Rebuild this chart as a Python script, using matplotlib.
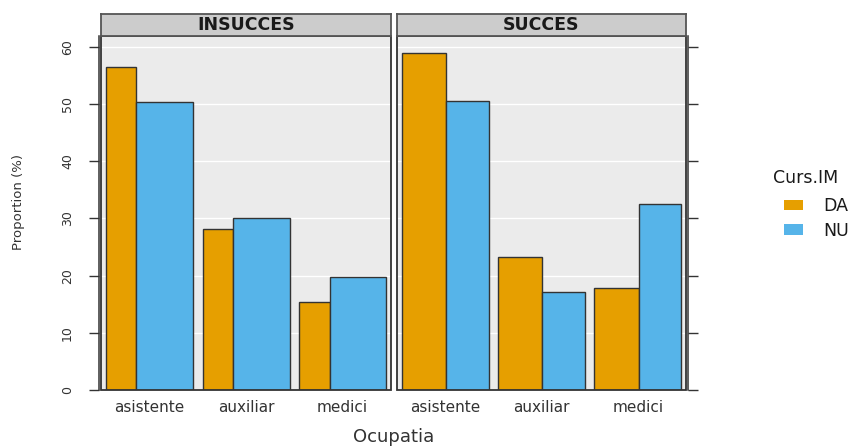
import numpy as np
import matplotlib
matplotlib.use("Agg")
import matplotlib.pyplot as plt
from matplotlib.patches import Patch, Rectangle

# proportions (%) of each occupation, per outcome and per Curs.IM group
ocupatia = ["asistente", "auxiliar", "medici"]
outcomes = ["INSUCCES", "SUCCES"]
groups = ["DA", "NU"]
insucces_da = [56.4, 28.1, 15.4]
insucces_nu = [50.3, 30.1, 19.7]
succes_da = [59.0, 23.2, 17.9]
succes_nu = [50.5, 17.2, 32.5]
# share of DA respondents inside each outcome (sets the bar widths)
da_share = [0.35, 0.51]

colors = {"DA": "#E69F00", "NU": "#56B4E9"}
edge = "#333333"

W, H = 858, 446
fig = plt.figure(figsize=(W / 100, H / 100), dpi=100)

def box(x0, y0, x1, y1):  # pixel box -> figure fraction
    return [x0 / W, 1 - y1 / H, (x1 - x0) / W, (y1 - y0) / H]

panels = [(101, 391), (397, 686)]
values = [(insucces_da, insucces_nu), (succes_da, succes_nu)]
x = np.arange(1, len(ocupatia) + 1)
grp_w = 0.9

for k, (x0, x1) in enumerate(panels):
    ax = fig.add_axes(box(x0, 36, x1, 390))
    ax.set_facecolor("#EBEBEB")
    da, nu = values[k]
    w_da = grp_w * da_share[k]
    w_nu = grp_w - w_da
    left = x - grp_w / 2
    ax.bar(left, da, width=w_da, align="edge", color=colors["DA"],
           edgecolor=edge, linewidth=1.0, zorder=3)
    ax.bar(left + w_da, nu, width=w_nu, align="edge", color=colors["NU"],
           edgecolor=edge, linewidth=1.0, zorder=3)
    ax.set_xlim(0.5, 3.5)
    ax.set_ylim(0, 61.9)
    ax.set_yticks(np.arange(0, 61, 10))
    ax.set_xticks(x)
    ax.set_xticklabels(ocupatia, fontsize=11, color="#333333")
    ax.grid(axis="y", color="white", linewidth=1.0, zorder=0)
    ax.tick_params(axis="x", length=0, pad=7)
    for s in ax.spines.values():
        s.set_visible(False)
    # panel frame
    ax.add_patch(Rectangle((0, 0), 1, 1, transform=ax.transAxes, fill=False,
                           edgecolor=edge, linewidth=1.3, zorder=5, clip_on=False))
    if k == 0:
        ax.spines["left"].set_visible(True)
        ax.spines["left"].set_position(("outward", 1.2))
        ax.spines["left"].set_color(edge)
        ax.spines["left"].set_linewidth(1.1)
        ax.tick_params(axis="y", length=7.2, width=1.0, color=edge, pad=11,
                       labelsize=9, labelcolor="#333333")
        for lab in ax.get_yticklabels():
            lab.set_rotation(90)
            lab.set_va("center")
    else:
        ax.yaxis.tick_right()
        ax.spines["right"].set_visible(True)
        ax.spines["right"].set_position(("outward", 1.5))
        ax.spines["right"].set_color(edge)
        ax.spines["right"].set_linewidth(1.1)
        ax.tick_params(axis="y", length=7.2, width=1.0, color=edge,
                       labelright=False)

    # facet strip
    st = fig.add_axes(box(x0, 14, x1, 36))
    st.set_facecolor("#CCCCCC")
    st.set_xticks([])
    st.set_yticks([])
    for s in st.spines.values():
        s.set_color("#555555")
        s.set_linewidth(1.3)
    st.text(0.5, 0.5, outcomes[k], ha="center", va="center",
            fontsize=12.5, fontweight="bold", color="#1a1a1a")

fig.text(19 / W, 1 - 202 / H, "Proportion (%)", rotation=90,
         ha="center", va="center", fontsize=9.5, color="#333333")
fig.text(394 / W, 1 - 437 / H, "Ocupatia", ha="center", va="center",
         fontsize=13, color="#333333")

# legend
fig.text(773 / W, 1 - 178 / H, "Curs.IM", ha="left", va="center",
         fontsize=12.5, color="#1a1a1a")
handles = [Patch(facecolor=colors[g], edgecolor="none") for g in groups]
leg = fig.legend(handles, groups, loc="upper left",
                 bbox_to_anchor=(784 / W, 1 - 197 / H), frameon=False,
                 borderpad=0, borderaxespad=0,
                 fontsize=12.5, handlelength=1.1, handleheight=0.55,
                 handletextpad=1.15, labelspacing=0.38)
for t in leg.get_texts():
    t.set_color("#1a1a1a")

fig.savefig("out.png", dpi=100)
